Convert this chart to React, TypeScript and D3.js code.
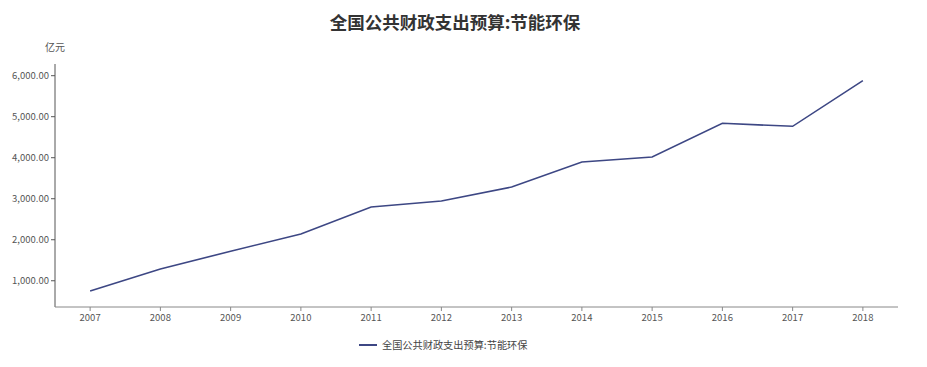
import React from "react";
import * as d3 from "d3";

const years = ["2007","2008","2009","2010","2011","2012","2013","2014","2015","2016","2017","2018"];
const values = [750, 1285, 1720, 2140, 2800, 2945, 3285, 3895, 4017, 4839, 4766, 5878];
const yTicks = [1000, 2000, 3000, 4000, 5000, 6000];
const title = "全国公共财政支出预算:节能环保";
const unit = "亿元";
const seriesName = "全国公共财政支出预算:节能环保";

const W = 927, H = 367;
const left = 55, right = 898, top = 64, bottom = 307;
const color = "#3d4784";
const font = "'Noto Sans CJK SC', 'Noto Sans', sans-serif";

export default function App() {
  const x = d3.scaleBand<string>().domain(years).range([left, right]);
  const y = d3.scaleLinear().domain([360, 6285]).range([bottom, top]);
  const fmt = d3.format(",.2f");
  const line = d3.line<number>()
    .x((_, i) => (x(years[i]) as number) + x.bandwidth() / 2)
    .y((d) => y(d));
  return (
    <svg width={W} height={H} style={{ position: "absolute", left: 0, top: 0, fontFamily: font }}>
      <rect width={W} height={H} fill="#fff" />
      <text x={455} y={29} textAnchor="middle" fontSize={17.5} fontWeight="bold" fill="#333">{title}</text>
      <text x={55} y={51} textAnchor="middle" fontSize={10} fill="#555">{unit}</text>
      <line x1={left} x2={left} y1={top} y2={bottom} stroke="#555" />
      <line x1={left} x2={right} y1={bottom} y2={bottom} stroke="#888" />
      {yTicks.map((t) => (
        <g key={t}>
          <line x1={left - 4} x2={left} y1={y(t)} y2={y(t)} stroke="#555" />
          <text x={left - 6} y={y(t)} dy="0.35em" textAnchor="end" fontSize={9.5} fill="#555">{fmt(t)}</text>
        </g>
      ))}
      {years.map((yr) => {
        const cx = (x(yr) as number) + x.bandwidth() / 2;
        return (
          <g key={yr}>
            <line x1={cx} x2={cx} y1={bottom} y2={bottom + 4} stroke="#888" />
            <text x={cx} y={bottom + 14} textAnchor="middle" fontSize={9.5} fill="#555">{yr}</text>
          </g>
        );
      })}
      <path d={line(values) || ""} fill="none" stroke={color} strokeWidth={1.6} />
      <line x1={359} x2={377} y1={345} y2={345} stroke={color} strokeWidth={2} />
      <text x={382} y={345} dy="0.35em" fontSize={10.2} fill="#444">{seriesName}</text>
    </svg>
  );
}
